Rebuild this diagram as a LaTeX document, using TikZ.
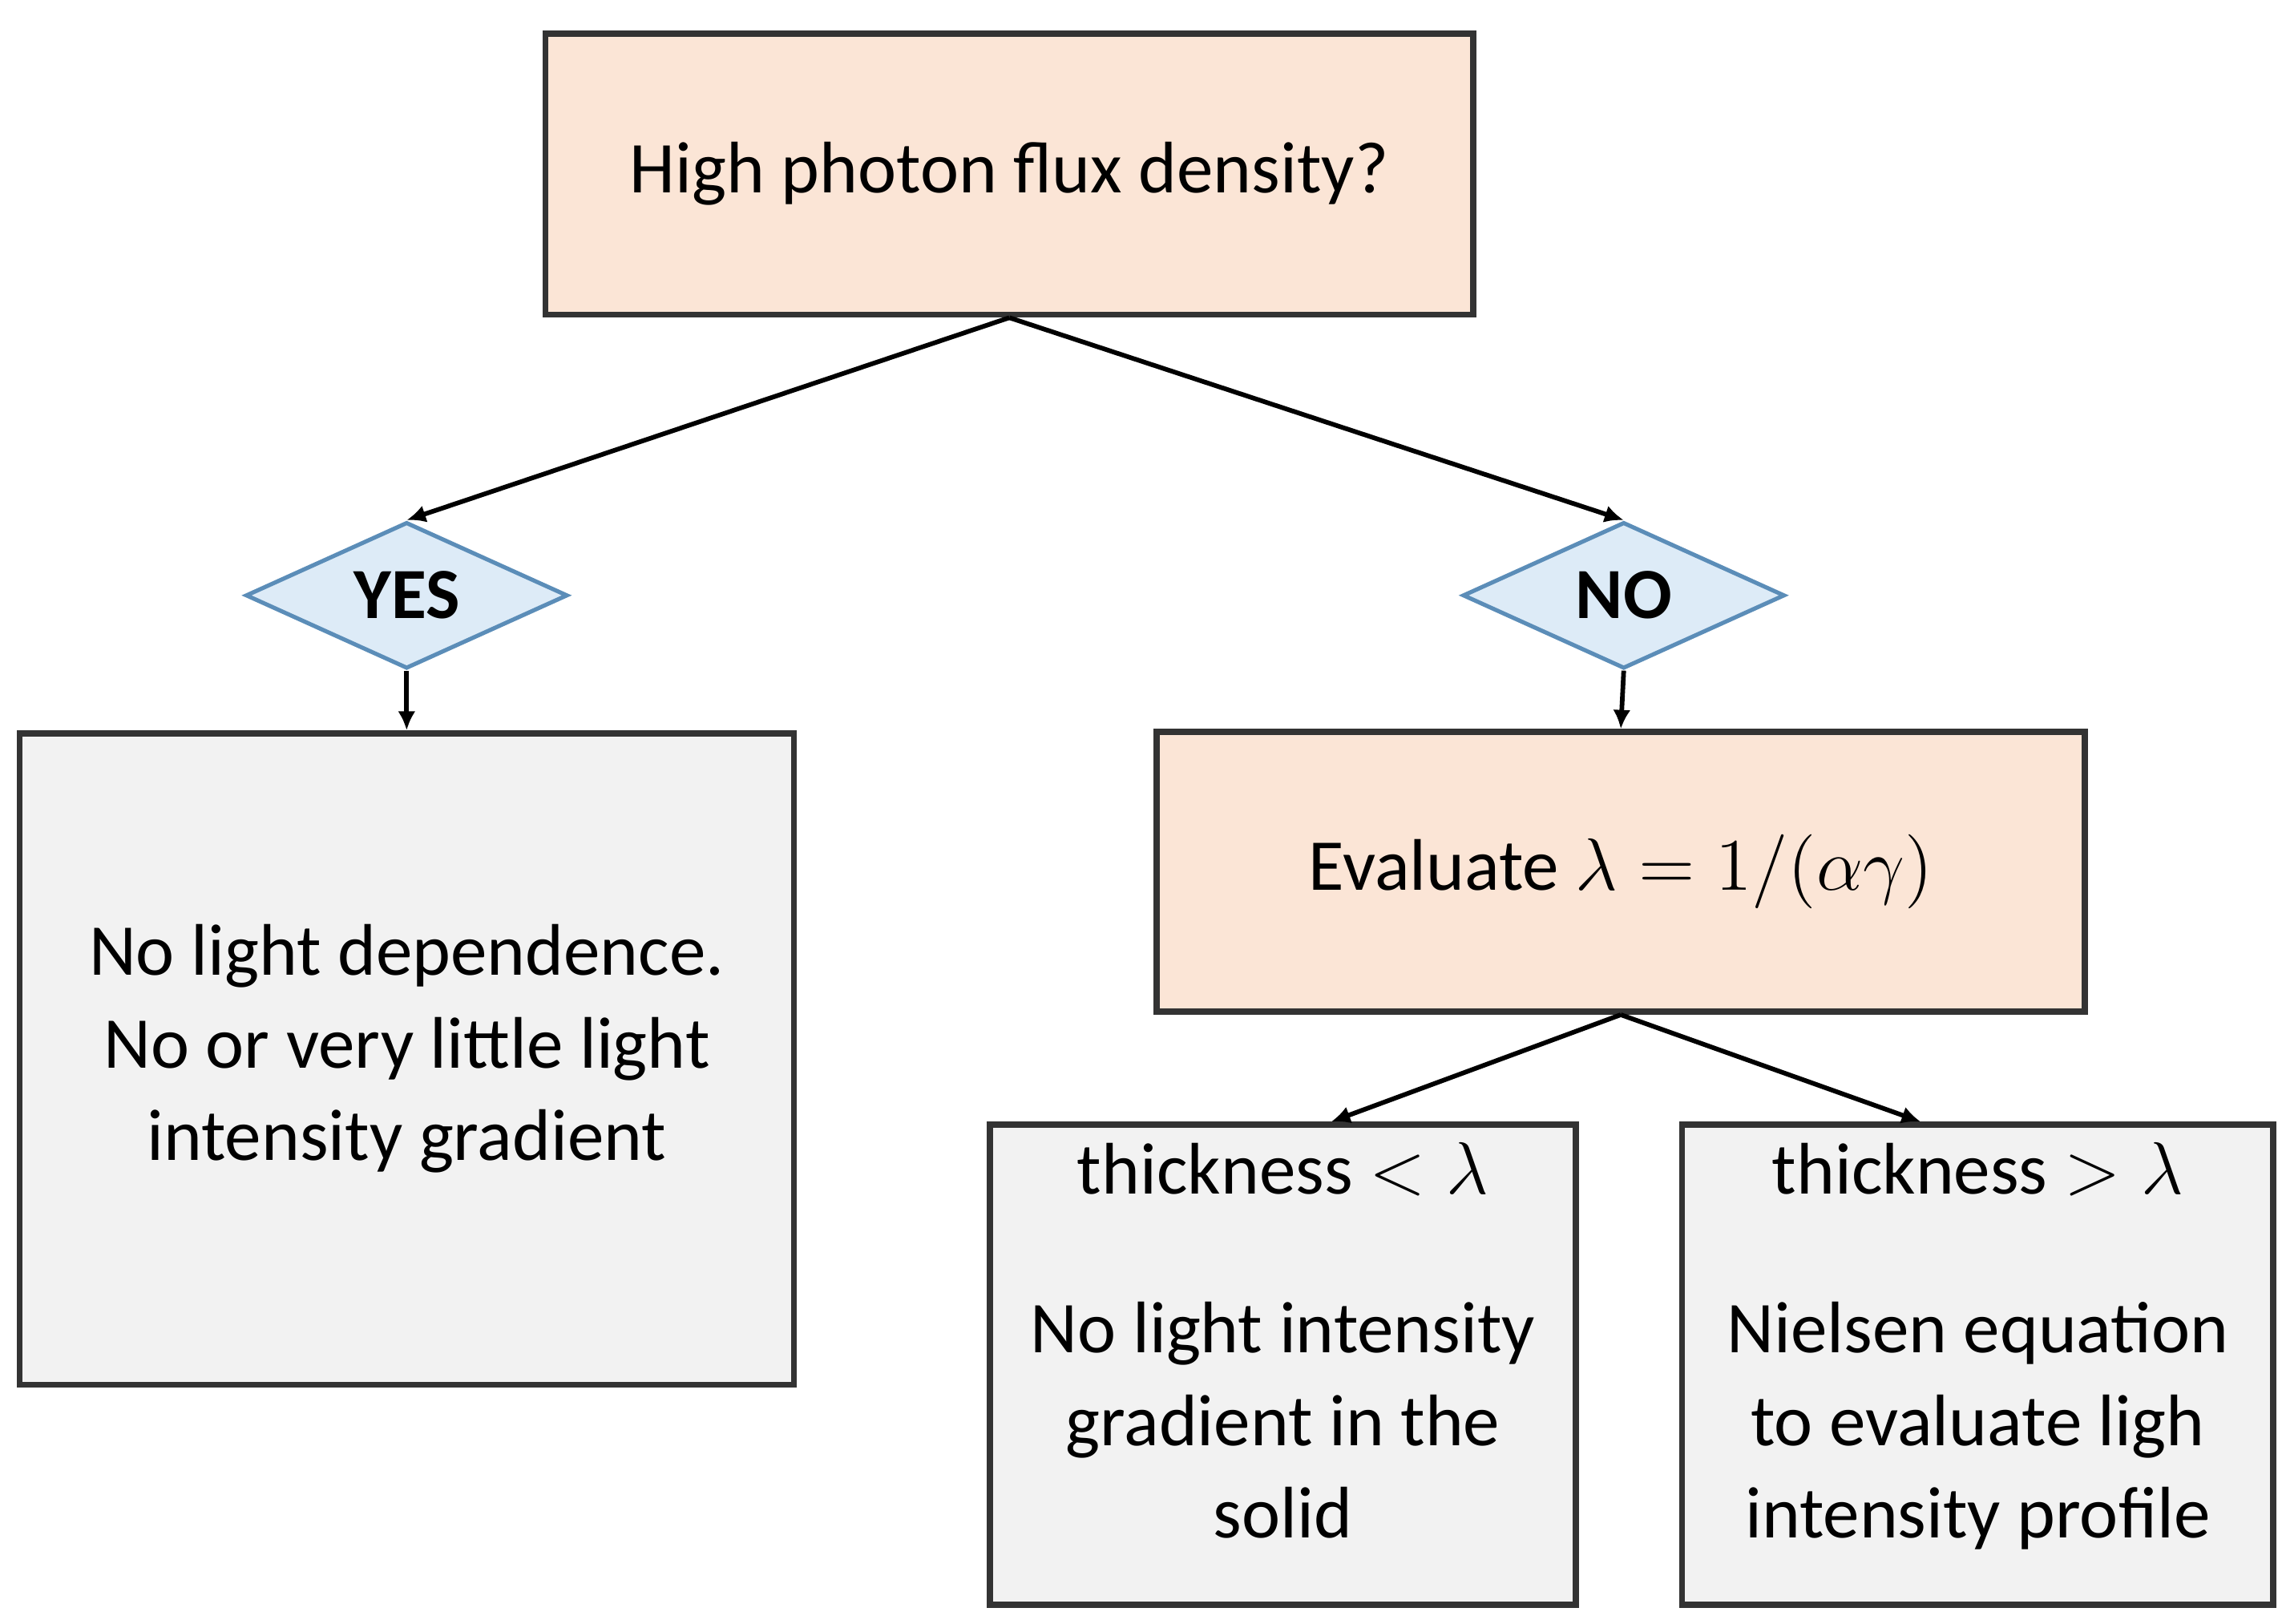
\documentclass[tikz,border=0pt]{standalone}
\usepackage{fontspec}
\setmainfont{Carlito}
\usepackage{amsmath}
\usetikzlibrary{arrows.meta,shapes.geometric}
\definecolor{peach}{HTML}{FBE5D6}
\definecolor{lgray}{HTML}{F2F2F2}
\definecolor{lblue}{HTML}{DDEBF7}
\definecolor{dblue}{HTML}{5B8DB8}
\begin{document}
\begin{tikzpicture}[
    x=0.01cm,y=-0.01cm,
    box/.style={rectangle,draw=black!80,line width=1.2pt,inner sep=0pt},
    question/.style={box,fill=peach},
    result/.style={box,fill=lgray},
    answer/.style={diamond,draw=dblue,fill=lblue,line width=0.8pt,aspect=2.2,
        minimum width=2.2cm,minimum height=1cm,inner sep=0pt,font=\bfseries},
    txt/.style={align=center,font=\fontsize{14.2}{18}\selectfont},
    link/.style={-{Latex[length=1.3mm,width=1.2mm]},line width=0.9pt}
]
    \useasboundingbox (0,0) rectangle (1560,1110);

    % question boxes
    \node[question,minimum width=6.34cm,minimum height=1.92cm,txt] (flux) at (690,119) {High photon flux density?};
    \node[question,minimum width=6.34cm,minimum height=1.91cm,txt] (eval) at (1108,596) {Evaluate $\lambda = 1/(\alpha\gamma)$};

    % answers
    \node[answer,minimum width=2.2cm] (yes) at (278,407) {\fontsize{14}{16}\selectfont YES};
    \node[answer,minimum width=2.2cm] (no) at (1110,407) {\fontsize{14}{16}\selectfont NO};

    % results
    \node[result,minimum width=5.29cm,minimum height=4.45cm] (nodep) at (278,724) {};
    \node[txt] at (278,717) {No light dependence.\\No or very little light\\intensity gradient};
    \node[result,minimum width=4.0cm,minimum height=3.28cm] (thin) at (877,933) {};
    \node[result,minimum width=4.04cm,minimum height=3.28cm] (thick) at (1352,933) {};
    \node[txt,anchor=north] at (thin.north) [yshift=-0.02cm] {thickness $<\lambda$\\[0.45cm]No light intensity\\gradient in the\\solid};
    \node[txt,anchor=north] at (thick.north) [yshift=-0.02cm] {thickness $>\lambda$\\[0.45cm]Nielsen equation\\to evaluate ligh\\intensity profile};

    % connectors
    \draw[link] (flux.south) -- (yes.north);
    \draw[link] (flux.south) -- (no.north);
    \draw[link] (yes.south) -- (nodep.north);
    \draw[link] (no.south) -- (eval.north);
    \draw[link] (eval.south) -- (thin.north -| 910,0);
    \draw[link] (eval.south) -- (thick.north -| 1313,0);
\end{tikzpicture}
\end{document}
